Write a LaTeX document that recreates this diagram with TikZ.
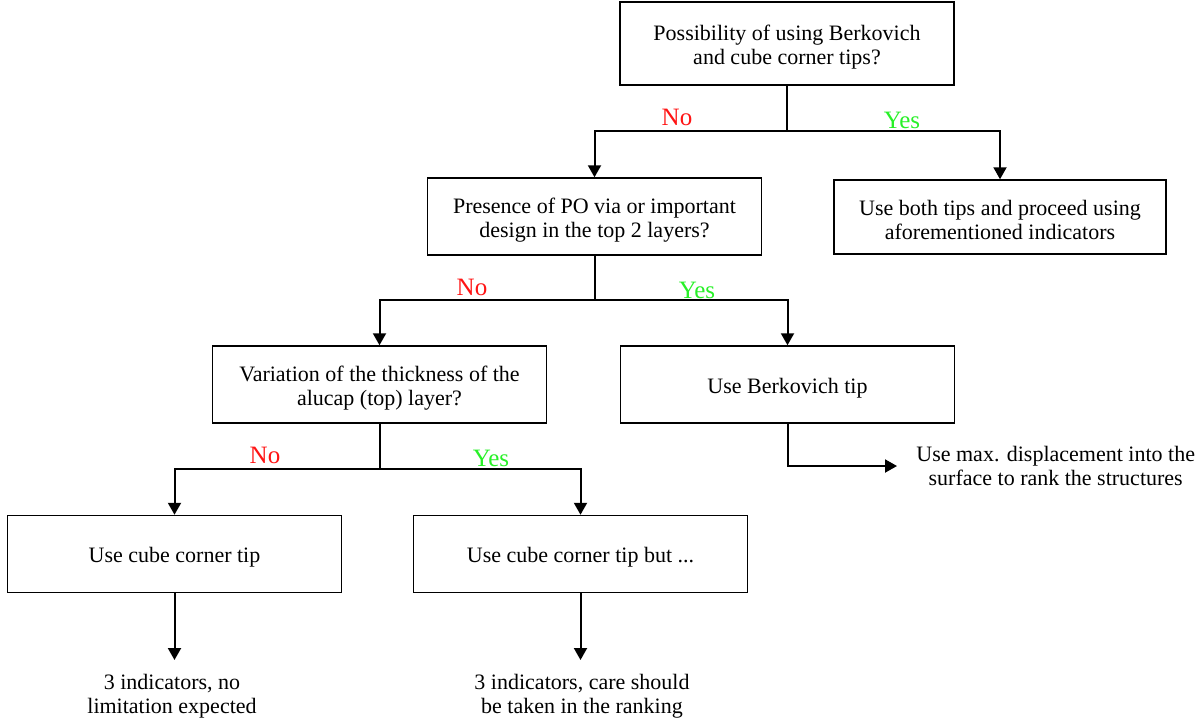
\documentclass[tikz,border=0pt]{standalone}
\usepackage{fontspec}
\setmainfont{Liberation Serif}
\usepackage{tikz}
\usetikzlibrary{arrows.meta}
\newcommand{\lift}{\rule{0pt}{11pt}}
\tikzset{%
  tipA/.tip={Triangle[width=6.5pt,length=6pt]},
  box/.style={draw, line width=0.75pt, minimum width=167pt, minimum height=38.5pt, align=center, inner sep=2pt},
  flow/.style={line width=1pt},
  result/.style={align=center, inner sep=0pt},
  answer/.style={font=\fontsize{12.5}{14}\selectfont}
}
\definecolor{nored}{RGB}{255,20,20}
\definecolor{yesgreen}{RGB}{40,240,40}

\begin{document}
\begin{tikzpicture}[x=0.5pt,y=-0.5pt,font=\fontsize{11}{12}\selectfont]
\useasboundingbox (0,0) rectangle (1203,719);
% questions and decisions
\node[box, minimum height=41.5pt] (q1) at (787,43.5) {\lift Possibility of using Berkovich\\and cube corner tips?};
\node[box] (q2) at (594.5,216.5) {\lift Presence of PO via or important\\design in the top 2 layers?};
\node[box, minimum width=166pt, minimum height=37pt] (both) at (1000,217) {\lift Use both tips and proceed using\\aforementioned indicators};
\node[box] (q3) at (379.5,384.5) {\lift Variation of the thickness of the\\alucap (top) layer?};
\node[box] (berk) at (787.5,384.5) {\lift Use Berkovich tip};
\node[box] (cube) at (174.5,554) {\lift Use cube corner tip};
\node[box] (cubebut) at (580.5,554) {\lift Use cube corner tip but ...};
% outcomes
\node[result, anchor=west] (rberk) at (916,466) {Use max. displacement into the\\surface to rank the structures};
\node[result, anchor=north] (rcube) at (172,674) {3 indicators, no\\limitation expected};
\node[result, anchor=north] (rcubebut) at (582,674) {3 indicators, care should\\be taken in the ranking};
% branch points and arrow ends
\coordinate (s1) at (787,131);
\coordinate (s2) at (594.5,300);
\coordinate (s3) at (379.5,469);
\coordinate (e1) at (897,466);
\coordinate (e2) at (174.5,660);
\coordinate (e3) at (580.5,660);
\draw[flow] (q1.south) -- (s1);
\draw[flow, -tipA] (s1) -| (q2.north);
\draw[flow, -tipA] (s1) -| (both.north);
\draw[flow] (q2.south) -- (s2);
\draw[flow, -tipA] (s2) -| (q3.north);
\draw[flow, -tipA] (s2) -| (berk.north);
\draw[flow] (q3.south) -- (s3);
\draw[flow, -tipA] (s3) -| (cube.north);
\draw[flow, -tipA] (s3) -| (cubebut.north);
\draw[flow, -tipA] (berk.south) |- (e1);
\draw[flow, -tipA] (cube.south) -- (e2);
\draw[flow, -tipA] (cubebut.south) -- (e3);
% answers
\node[answer, nored] (no1) at (677,117) {No};
\node[answer, yesgreen] (yes1) at (902,120) {Yes};
\node[answer, nored] (no2) at (472,287) {No};
\node[answer, yesgreen] (yes2) at (697,290) {Yes};
\node[answer, nored] (no3) at (265,455) {No};
\node[answer, yesgreen] (yes3) at (491,458) {Yes};
\end{tikzpicture}
\end{document}
